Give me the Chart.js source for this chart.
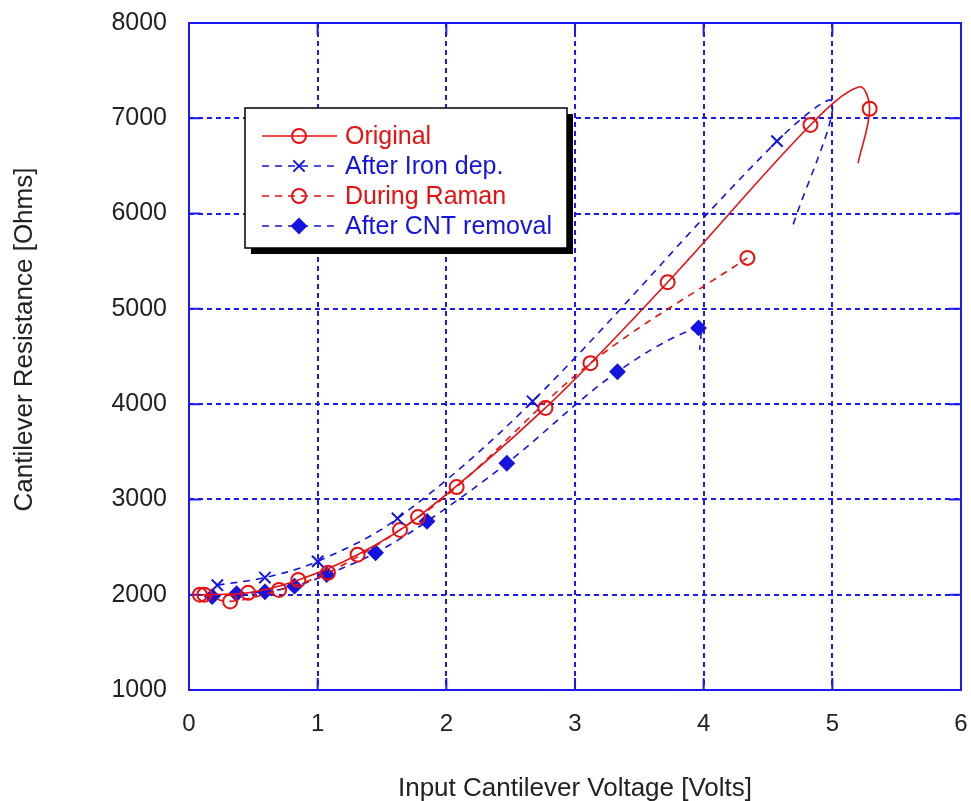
<!DOCTYPE html>
<html>
<head>
<meta charset="utf-8">
<script src="https://cdn.jsdelivr.net/npm/chart.js@4.4.0/dist/chart.umd.min.js"></script>
<style>
  html, body { margin: 0; padding: 0; background: #fff; }
  #wrap { width: 971px; height: 801px; }
</style>
</head>
<body>
<div id="wrap"><canvas id="chart"></canvas></div>
<script>
// values; "marked" = 1 where a symbol is drawn, 0 where only the spline passes
const originalX = [0.085, 0.46, 0.85, 1.31, 1.78, 2.77, 3.72, 4.83, 5.21, 5.29, 5.20];
const originalY = [2000, 2020, 2155, 2420, 2815, 3960, 5280, 6930, 7330, 7100, 6530];
const originalMarked = [1, 1, 1, 1, 1, 1, 1, 1, 0, 1, 0];

const ironX = [0.22, 0.59, 1.00, 1.62, 2.67, 4.57, 5.00, 4.69];
const ironY = [2100, 2180, 2350, 2800, 4030, 6760, 7170, 5860];
const ironMarked = [1, 1, 1, 1, 1, 1, 0, 0];

const ramanX = [0.12, 0.32, 0.70, 1.08, 1.64, 2.08, 3.12, 4.34];
const ramanY = [2000, 1930, 2050, 2230, 2680, 3130, 4430, 5535];
const ramanMarked = [1, 1, 1, 1, 1, 1, 1, 1];

const cntX = [0.18, 0.37, 0.59, 0.82, 1.07, 1.45, 1.85, 2.47, 3.33, 3.96, 3.97];
const cntY = [1980, 2010, 2030, 2090, 2210, 2440, 2770, 3380, 4340, 4800, 4570];
const cntMarked = [1, 1, 1, 1, 1, 1, 1, 1, 1, 1, 0];

const xTicks = [0, 1, 2, 3, 4, 5, 6];
const yTicks = [1000, 2000, 3000, 4000, 5000, 6000, 7000, 8000];

const yTitle = 'Cantilever Resistance [Ohms]';
const xTitle = 'Input Cantilever Voltage [Volts]';

const red = '#e81010';
const blue = '#1414e0';
const gridBlue = '#1a1aee';
const font = "'Liberation Sans', Arial, sans-serif";

function points(xs, ys, marked) {
    return xs.map((x, i) => ({ x: x, y: ys[i], m: marked[i] }));
}

function series(label, xs, ys, marked, color, dash, style, radius, fill) {
    return {
        label: label,
        data: points(xs, ys, marked),
        showLine: true,
        tension: 0.35,
        borderColor: color,
        borderWidth: 1.6,
        borderDash: dash,
        pointStyle: style,
        pointRadius: c => (c.raw && c.raw.m ? radius : 0),
        pointHoverRadius: c => (c.raw && c.raw.m ? radius : 0),
        pointBorderWidth: 2,
        pointBorderColor: color,
        pointBackgroundColor: fill,
        legendRadius: radius
    };
}

const datasets = [
    series('Original', originalX, originalY, originalMarked, red, [], 'circle', 7, 'rgba(0,0,0,0)'),
    series('After Iron dep.', ironX, ironY, ironMarked, blue, [7, 6], 'crossRot', 8, blue),
    series('During Raman', ramanX, ramanY, ramanMarked, red, [7, 6], 'circle', 7, 'rgba(0,0,0,0)'),
    series('After CNT removal', cntX, cntY, cntMarked, blue, [7, 6], 'rectRot', 7, blue)
];

// frame, inward tick marks on all four sides, and the y title
const framePlugin = {
    id: 'frame',
    beforeDatasetsDraw(chart) {
        const { ctx, chartArea: a, scales: { x, y } } = chart;
        ctx.save();
        ctx.strokeStyle = gridBlue;
        ctx.lineWidth = 2;
        ctx.setLineDash([]);
        ctx.strokeRect(a.left, a.top, a.right - a.left, a.bottom - a.top);
        ctx.beginPath();
        xTicks.forEach(v => {
            const px = x.getPixelForValue(v);
            ctx.moveTo(px, a.bottom); ctx.lineTo(px, a.bottom - 12);
            ctx.moveTo(px, a.top); ctx.lineTo(px, a.top + 12);
        });
        yTicks.forEach(v => {
            const py = y.getPixelForValue(v);
            ctx.moveTo(a.left, py); ctx.lineTo(a.left + 12, py);
            ctx.moveTo(a.right, py); ctx.lineTo(a.right - 12, py);
        });
        ctx.stroke();

        ctx.translate(25, (a.top + a.bottom) / 2 - 17);
        ctx.rotate(-Math.PI / 2);
        ctx.fillStyle = '#222';
        ctx.font = '26px ' + font;
        ctx.textAlign = 'center';
        ctx.textBaseline = 'middle';
        ctx.fillText(yTitle, 0, 0);
        ctx.restore();
    }
};

// boxed legend with drop shadow
const legendPlugin = {
    id: 'boxLegend',
    afterDraw(chart) {
        const { ctx, chartArea: a } = chart;
        const bx = a.left + 56, by = a.top + 85, bw = 322, bh = 140;
        ctx.save();
        ctx.fillStyle = '#000';
        ctx.fillRect(bx + 6, by + 6, bw, bh);
        ctx.fillStyle = '#fff';
        ctx.fillRect(bx, by, bw, bh);
        ctx.strokeStyle = '#000';
        ctx.lineWidth = 1.5;
        ctx.strokeRect(bx, by, bw, bh);
        chart.data.datasets.forEach((ds, i) => {
            const ry = by + 28 + i * 30;
            ctx.strokeStyle = ds.borderColor;
            ctx.lineWidth = 1.6;
            ctx.setLineDash(ds.borderDash);
            ctx.beginPath();
            ctx.moveTo(bx + 17, ry);
            ctx.lineTo(bx + 92, ry);
            ctx.stroke();
            ctx.setLineDash([]);
            ctx.fillStyle = ds.pointBackgroundColor;
            ctx.lineWidth = 2;
            Chart.helpers.drawPoint(ctx, {
                pointStyle: ds.pointStyle,
                radius: ds.legendRadius,
                rotation: 0,
                borderWidth: 2
            }, bx + 54, ry);
            ctx.fillStyle = ds.borderColor;
            ctx.font = '25px ' + font;
            ctx.textBaseline = 'middle';
            ctx.fillText(ds.label, bx + 100, ry + 1);
        });
        ctx.restore();
    }
};

new Chart(document.getElementById('chart'), {
    type: 'scatter',
    data: { datasets: datasets },
    options: {
        responsive: true,
        maintainAspectRatio: false,
        animation: false,
        layout: { padding: { left: 0, top: 23, right: 10, bottom: 0 } },
        plugins: { legend: { display: false }, tooltip: { enabled: false } },
        scales: {
            x: {
                type: 'linear',
                min: 0,
                max: 6,
                afterBuildTicks: s => { s.ticks = xTicks.map(v => ({ value: v })); },
                afterFit: s => { s.height = 111; s.paddingLeft = 0; s.paddingRight = 0; },
                grid: { color: gridBlue, lineWidth: 2, drawTicks: false },
                border: { display: false, dash: [5, 4] },
                ticks: { color: '#222', padding: 20, font: { family: font, size: 24 }, maxRotation: 0 },
                title: {
                    display: true,
                    text: xTitle,
                    color: '#222',
                    font: { family: font, size: 26 },
                    padding: { top: 0, bottom: -3 }
                }
            },
            y: {
                type: 'linear',
                min: 1000,
                max: 8000,
                afterBuildTicks: s => { s.ticks = yTicks.map(v => ({ value: v })); },
                afterFit: s => { s.width = 189; s.paddingTop = 0; s.paddingBottom = 0; },
                grid: { color: gridBlue, lineWidth: 2, drawTicks: false },
                border: { display: false, dash: [5, 4] },
                ticks: { color: '#222', padding: 22, font: { family: font, size: 25 }, callback: v => String(v) }
            }
        }
    },
    plugins: [framePlugin, legendPlugin]
});
</script>
</body>
</html>
